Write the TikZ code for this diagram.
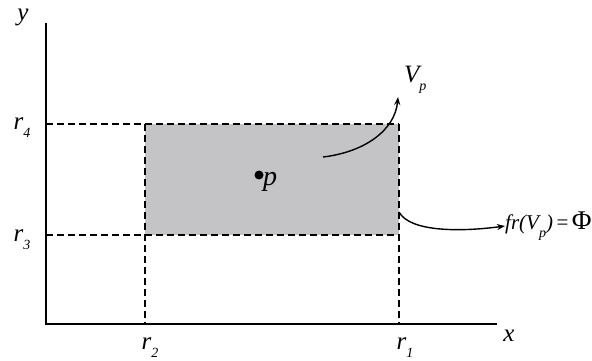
\documentclass[tikz,border=0pt]{standalone}
\usepackage{fontspec}
\setmainfont{Liberation Serif}
\usetikzlibrary{arrows.meta}
\definecolor{boxgray}{RGB}{196,195,198}
\tikzset{
  axisline/.style={line width=1.5pt,black},
  guide/.style={line width=1.3pt,dash pattern=on 7pt off 4pt},
  lbl/.style={font=\fontsize{25}{26}\selectfont\itshape,inner sep=0pt},
  conn/.style={line width=1.4pt,-{Stealth[length=8pt,width=6pt]}},
}
\newcommand{\lowsub}[1]{\raisebox{-8pt}{\fontsize{14}{15}\selectfont\itshape #1}}
\begin{document}
\begin{tikzpicture}[x=1pt,y=-1pt]
\useasboundingbox (0,0) rectangle (592,360);
% shaded region
\fill[boxgray] (145,124) rectangle (399,235);
% axes
\coordinate (O) at (46,324);
\coordinate (ytop) at (46,23);
\coordinate (xend) at (497,324);
\draw[axisline] (ytop) -- (O) -- (xend);
% guides
\coordinate (r4a) at (46,124); \coordinate (r4b) at (399,124);
\coordinate (r3a) at (46,235); \coordinate (r3b) at (399,235);
\coordinate (r2a) at (145,124); \coordinate (r2b) at (145,324);
\coordinate (r1a) at (399,124); \coordinate (r1b) at (399,324);
\draw[guide] (r4a) -- (r4b);
\draw[guide] (r3a) -- (r3b);
\draw[guide] (r2a) -- (r2b);
\draw[guide] (r1a) -- (r1b);
% labels
\node[lbl] (ly) at (23,17) {y};
\node[lbl] (lx) at (509,336) {x};
\node[lbl] (l4) at (22,128) {r\lowsub{4}};
\node[lbl] (l3) at (22,240) {r\lowsub{3}};
\node[lbl] (l2) at (150,348) {r\lowsub{2}};
\node[lbl] (l1) at (405,348) {r\lowsub{1}};
% point p
\fill (259,175) circle (4.5pt);
\coordinate (pt) at (259,175);
\node[lbl,font=\fontsize{28}{28}\selectfont\itshape,anchor=west] (lp) at (263,182) {p};
% Vp
\node[lbl,anchor=west] (lv) at (404,80) {V\lowsub{p}};
\coordinate (s1) at (323,157);
\coordinate (e1) at (398,97);
\draw[conn] (s1) .. controls (365,152) and (395,130) .. (e1);
% fr
\node[lbl,font=\fontsize{21}{22}\selectfont,anchor=west] (lfr) at (505,226) {\itshape fr(V\lowsub{p}\/)\upshape\,=\,\fontsize{27}{27}\selectfont Φ};
\coordinate (s2) at (399,212);
\draw[conn] (s2) .. controls (410,232) and (460,232) .. (lfr.west);
\end{tikzpicture}
\end{document}
